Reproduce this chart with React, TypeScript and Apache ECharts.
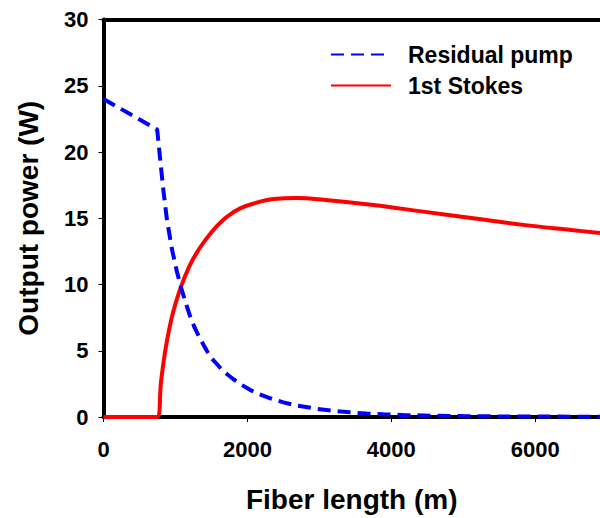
import React, { useEffect, useRef } from "react";
import * as echarts from "echarts";

const pumpX = [0, 746, 787, 830, 880, 950, 1019, 1075, 1140, 1204, 1270, 1343, 1436, 1500, 1575, 1640, 1714, 1806, 1920, 2037, 2150, 2300, 2500, 2700, 2964, 3200, 3426, 3650, 3889, 4200, 4580, 5000, 5500, 6900];
const pumpY = [24.0, 21.7, 19.5, 17.2, 14.95, 12.7, 11.0, 9.83, 8.65, 7.6, 6.7, 5.9, 5.0, 4.45, 4.0, 3.6, 3.25, 2.85, 2.42, 2.05, 1.75, 1.45, 1.1, 0.85, 0.62, 0.46, 0.35, 0.26, 0.2, 0.14, 0.1, 0.07, 0.04, 0.02];

const stokesX = [0, 741, 800, 857, 920, 972, 1075, 1204, 1320, 1436, 1575, 1714, 1899, 2176, 2361, 2686, 3056, 3750, 4444, 5139, 5833, 6528, 6900];
const stokesY = [0, 0, 2.7, 4.95, 6.8, 8.0, 9.8, 11.5, 12.6, 13.5, 14.4, 15.1, 15.75, 16.25, 16.45, 16.53, 16.4, 16.0, 15.5, 15.0, 14.5, 14.1, 13.88];

const seriesNames = ["Residual pump", "1st Stokes"];
const xTitle = "Fiber length (m)";
const yTitle = "Output power (W)";

const FONT = "'Liberation Sans', Arial, sans-serif";

export default function App() {
  const ref = useRef<HTMLDivElement>(null);
  useEffect(() => {
    if (!ref.current) return;
    const chart = echarts.init(ref.current, undefined, { renderer: "svg" });
    const pump = pumpX.map((x, i) => [x, pumpY[i]]);
    const stokes = stokesX.map((x, i) => [x, stokesY[i]]);
    chart.setOption({
      animation: false,
      backgroundColor: "#ffffff",
      textStyle: { fontFamily: FONT },
      grid: { left: 103.5, top: 19.5, right: 0, bottom: 98.5, containLabel: false },
      legend: {
        left: 325,
        top: 38,
        orient: "vertical",
        itemWidth: 60,
        itemHeight: 14,
        itemGap: 8,
        data: seriesNames,
        itemStyle: { opacity: 0 },
        textStyle: { fontSize: 23, fontWeight: "bold", color: "#000", fontFamily: FONT, padding: [0, 0, 0, 12] },
      },
      xAxis: [
        {
          type: "value",
          min: 0,
          max: 6900,
          interval: 2000,
          position: "bottom",
          name: xTitle,
          nameLocation: "middle",
          nameGap: 68,
          nameTextStyle: { fontSize: 28, fontWeight: "bold", color: "#000", fontFamily: FONT },
          axisLine: { show: true, onZero: false, lineStyle: { color: "#000", width: 4 } },
          axisTick: { show: true, length: 5, lineStyle: { color: "#000", width: 1 } },
          axisLabel: {
            fontSize: 22,
            fontWeight: "bold",
            color: "#000",
            margin: 21,
            showMaxLabel: false,
            fontFamily: FONT,
            formatter: (v: number) => String(v),
          },
          splitLine: { show: false },
        },
        {
          type: "value",
          min: 0,
          max: 6900,
          position: "top",
          axisLine: { show: true, onZero: false, lineStyle: { color: "#000", width: 4 } },
          axisTick: { show: false },
          axisLabel: { show: false },
          splitLine: { show: false },
        },
      ],
      yAxis: {
        type: "value",
        min: 0,
        max: 30,
        interval: 5,
        name: yTitle,
        nameLocation: "middle",
        nameGap: 61,
        nameTextStyle: { fontSize: 28, fontWeight: "bold", color: "#000", fontFamily: FONT },
        axisLine: { show: true, lineStyle: { color: "#000", width: 4 } },
        axisTick: { show: true, length: 5, lineStyle: { color: "#000", width: 1 } },
        axisLabel: { fontSize: 22, fontWeight: "bold", color: "#000", margin: 15, fontFamily: FONT },
        splitLine: { show: false },
      },
      series: [
        {
          name: seriesNames[1],
          type: "line",
          xAxisIndex: 0,
          data: stokes,
          symbol: "none",
          smooth: 0.4,
          lineStyle: { color: "#ff0000", width: 4 },
          itemStyle: { color: "#ff0000" },
          z: 3,
        },
        {
          name: seriesNames[0],
          type: "line",
          xAxisIndex: 0,
          data: pump,
          symbol: "none",
          smooth: false,
          lineStyle: { color: "#0000ff", width: 4, type: [13, 7] },
          itemStyle: { color: "#0000ff" },
          z: 4,
        },
      ],
    });
    return () => chart.dispose();
  }, []);
  return <div ref={ref} style={{ position: "fixed", left: 0, top: 0, width: 600, height: 518 }} />;
}
